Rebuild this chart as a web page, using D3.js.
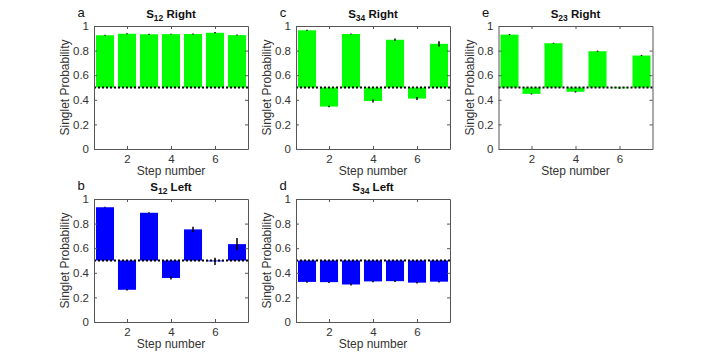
<!DOCTYPE html>
<html lang="en">
<head>
<meta charset="utf-8">
<title>Singlet probability</title>
<script src="https://cdn.jsdelivr.net/npm/d3@7"></script>
<style>
  body { margin: 0; background: #fff; }
  text { font-family: "Liberation Sans", Arial, sans-serif; fill: #333; }
  .tick text { font-size: 11.5px; }
  .lbl { font-size: 12px; }
  .ttl { font-size: 11.5px; font-weight: bold; fill: #111; }
  .letter { font-size: 13px; fill: #111; }
</style>
</head>
<body>
<script>
// Data (bars hang from the 0.5 baseline)
const steps = [1, 2, 3, 4, 5, 6, 7];
const yTicks = [0, 0.2, 0.4, 0.6, 0.8, 1];
const xTicks = [2, 4, 6];

const s12Right    = [0.925, 0.937, 0.933, 0.934, 0.935, 0.945, 0.926];
const s12RightErr = [0.004, 0.004, 0.004, 0.004, 0.004, 0.006, 0.004];
const s34Right    = [0.965, 0.345, 0.935, 0.390, 0.888, 0.410, 0.855];
const s34RightErr = [0.004, 0.006, 0.005, 0.012, 0.010, 0.012, 0.022];
const s23Right    = [0.930, 0.448, 0.860, 0.465, 0.795, 0.494, 0.760];
const s23RightErr = [0.004, 0.005, 0.004, 0.006, 0.005, 0.004, 0.005];
const s12Left     = [0.933, 0.262, 0.888, 0.358, 0.753, 0.493, 0.633];
const s12LeftErr  = [0.004, 0.006, 0.005, 0.012, 0.022, 0.030, 0.050];
const s34Left     = [0.326, 0.324, 0.305, 0.330, 0.332, 0.320, 0.328];
const s34LeftErr  = [0.006, 0.006, 0.008, 0.006, 0.006, 0.006, 0.006];

const w = 720, h = 360;
const pw = 154, ph = 123;
const colX = [94, 296, 498.5];
const rowY = [26, 199];
const green = "#00ff00", blue = "#0000ff";

const panels = [
  {letter: "a", sub: "12", side: "Right", col: 0, row: 0, vals: s12Right, errs: s12RightErr, color: green},
  {letter: "c", sub: "34", side: "Right", col: 1, row: 0, vals: s34Right, errs: s34RightErr, color: green},
  {letter: "e", sub: "23", side: "Right", col: 2, row: 0, vals: s23Right, errs: s23RightErr, color: green},
  {letter: "b", sub: "12", side: "Left",  col: 0, row: 1, vals: s12Left,  errs: s12LeftErr,  color: blue},
  {letter: "d", sub: "34", side: "Left",  col: 1, row: 1, vals: s34Left,  errs: s34LeftErr,  color: blue}
];

const svg = d3.select("body").append("svg")
  .attr("width", w).attr("height", h);

const x = d3.scaleLinear().domain([0.5, 7.5]).range([0, pw]);
const y = d3.scaleLinear().domain([0, 1]).range([ph, 0]);
const axisCol = "#555";

panels.forEach(p => {
  const g = svg.append("g")
    .attr("transform", `translate(${colX[p.col]},${rowY[p.row]})`);

  // bars from 0.5
  g.selectAll("rect.bar").data(steps).enter().append("rect")
    .attr("class", "bar")
    .attr("x", d => x(d - 0.41))
    .attr("width", x(1.41) - x(0.59))
    .attr("y", (d, i) => y(Math.max(p.vals[i], 0.5)))
    .attr("height", (d, i) => Math.abs(y(p.vals[i]) - y(0.5)))
    .attr("fill", p.color);

  // error bars
  g.selectAll("line.err").data(steps).enter().append("line")
    .attr("x1", d => x(d)).attr("x2", d => x(d))
    .attr("y1", (d, i) => y(p.vals[i] - p.errs[i]))
    .attr("y2", (d, i) => y(p.vals[i] + p.errs[i]))
    .attr("stroke", "#000").attr("stroke-width", 1.5);

  // dotted 0.5 line
  g.append("line")
    .attr("x1", 0).attr("x2", pw)
    .attr("y1", y(0.5)).attr("y2", y(0.5))
    .attr("stroke", "#000").attr("stroke-width", 2)
    .attr("stroke-dasharray", "2,2");

  // axes, ticks inward on all sides
  const ax = [
    {a: d3.axisLeft(y).tickValues(yTicks).tickFormat(d3.format("~g")).tickSizeInner(-3).tickSizeOuter(0).tickPadding(5), t: "translate(0,0)"},
    {a: d3.axisRight(y).tickValues(yTicks).tickFormat("").tickSizeInner(-3).tickSizeOuter(0), t: `translate(${pw},0)`},
    {a: d3.axisBottom(x).tickValues(xTicks).tickFormat(d3.format("d")).tickSizeInner(-3).tickSizeOuter(0).tickPadding(6), t: `translate(0,${ph})`},
    {a: d3.axisTop(x).tickValues(xTicks).tickFormat("").tickSizeInner(-3).tickSizeOuter(0), t: "translate(0,0)"}
  ];
  ax.forEach(o => {
    const ag = g.append("g").attr("transform", o.t).call(o.a);
    ag.select(".domain").attr("stroke", axisCol);
    ag.selectAll(".tick line").attr("stroke", axisCol);
    ag.selectAll(".tick text").attr("fill", "#333");
  });

  // labels
  g.append("text").attr("class", "lbl")
    .attr("x", pw / 2).attr("y", ph + 26)
    .attr("text-anchor", "middle").text("Step number");
  g.append("text").attr("class", "lbl")
    .attr("transform", `translate(-25,${ph / 2}) rotate(-90)`)
    .attr("text-anchor", "middle").text("Singlet Probability");

  const t = g.append("text").attr("class", "ttl")
    .attr("x", pw / 2).attr("y", -8).attr("text-anchor", "middle");
  t.append("tspan").text("S");
  t.append("tspan").attr("dy", 3).style("font-size", "8.5px").text(p.sub);
  t.append("tspan").attr("dy", -3).text(" " + p.side);

  g.append("text").attr("class", "letter")
    .attr("x", -13).attr("y", -9).attr("text-anchor", "middle").text(p.letter);
});
</script>
</body>
</html>
